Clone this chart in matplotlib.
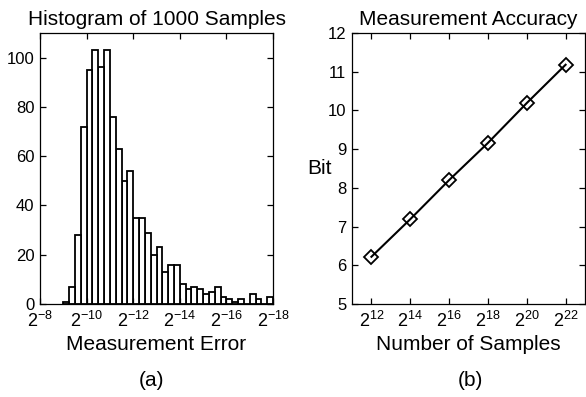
import numpy as np
import matplotlib
matplotlib.use("Agg")
import matplotlib.pyplot as plt

plt.rcParams["font.family"] = ["Liberation Sans", "DejaVu Sans"]
plt.rcParams["mathtext.default"] = "regular"

# (a) histogram: counts per quarter-octave bin, from 2^-9 down to 2^-18
bin_log2_hi = -9.0
bin_log2_lo = -18.0
counts = [1, 7, 28, 72, 95, 103, 96, 103, 76, 63, 50, 54,
          35, 35, 29, 20, 23, 13, 16, 16, 8, 6, 7, 6,
          4, 5, 7, 3, 2, 1, 2, 0, 4, 2, 0, 3]
hist_xticks_log2 = [-8, -10, -12, -14, -16, -18]
hist_yticks = [0, 20, 40, 60, 80, 100]

# (b) accuracy vs number of samples
samples_log2 = [12, 14, 16, 18, 20, 22]
bits = [6.22, 7.19, 8.20, 9.16, 10.19, 11.18]
bit_yticks = [5, 6, 7, 8, 9, 10, 11, 12]

FS = 15


def matlab_axes(ax):
    for s in ax.spines.values():
        s.set_linewidth(0.9)
    ax.tick_params(direction="in", top=True, right=True, length=4,
                   width=0.9, labelsize=12, pad=4)
    ax.tick_params(axis="x", labelsize=13, pad=5)


fig = plt.figure(figsize=(5.86, 3.97), dpi=100)

# ---- (a) ----
ax1 = fig.add_axes([40 / 586, 93 / 397, 233 / 586, 271 / 397])
edges = 2.0 ** np.linspace(bin_log2_hi, bin_log2_lo, len(counts) + 1)
centers = np.sqrt(edges[:-1] * edges[1:])
ax1.hist(centers, bins=edges[::-1], weights=counts,
         facecolor="white", edgecolor="black", linewidth=1.3)
ax1.set_xscale("log", base=2)
ax1.set_xlim(2.0 ** -8, 2.0 ** -18)
ax1.set_ylim(0, 110)
ax1.set_xticks([2.0 ** k for k in hist_xticks_log2])
ax1.set_xticklabels([f"$2^{{{k}}}$" for k in hist_xticks_log2])
ax1.xaxis.set_minor_locator(matplotlib.ticker.NullLocator())
ax1.set_yticks(hist_yticks)
matlab_axes(ax1)
ax1.set_title("Histogram of 1000 Samples", fontsize=FS, pad=6)
ax1.set_xlabel("Measurement Error", fontsize=FS, labelpad=3)

# ---- (b) ----
ax2 = fig.add_axes([352 / 586, 93 / 397, 233 / 586, 271 / 397])
ax2.plot([2.0 ** k for k in samples_log2], bits, color="black",
         linewidth=1.5, marker="D", markersize=7, markerfacecolor="none",
         markeredgecolor="black", markeredgewidth=1.3)
ax2.set_xscale("log", base=2)
ax2.set_xlim(2.0 ** 11, 2.0 ** 23)
ax2.set_ylim(5, 12)
ax2.set_xticks([2.0 ** k for k in samples_log2])
ax2.set_xticklabels([f"$2^{{{k}}}$" for k in samples_log2])
ax2.xaxis.set_minor_locator(matplotlib.ticker.NullLocator())
ax2.set_yticks(bit_yticks)
matlab_axes(ax2)
ax2.set_title("Measurement Accuracy", fontsize=FS, pad=6)
ax2.set_xlabel("Number of Samples", fontsize=FS, labelpad=3)
ax2.set_ylabel("Bit", fontsize=FS, rotation=0, va="center", ha="right")
ax2.yaxis.set_label_coords(-0.085, 0.5)

fig.text(152 / 586, 1 - 380 / 397, "(a)", fontsize=FS, ha="center", va="center")
fig.text(470 / 586, 1 - 380 / 397, "(b)", fontsize=FS, ha="center", va="center")

fig.savefig("out.png", dpi=100)
